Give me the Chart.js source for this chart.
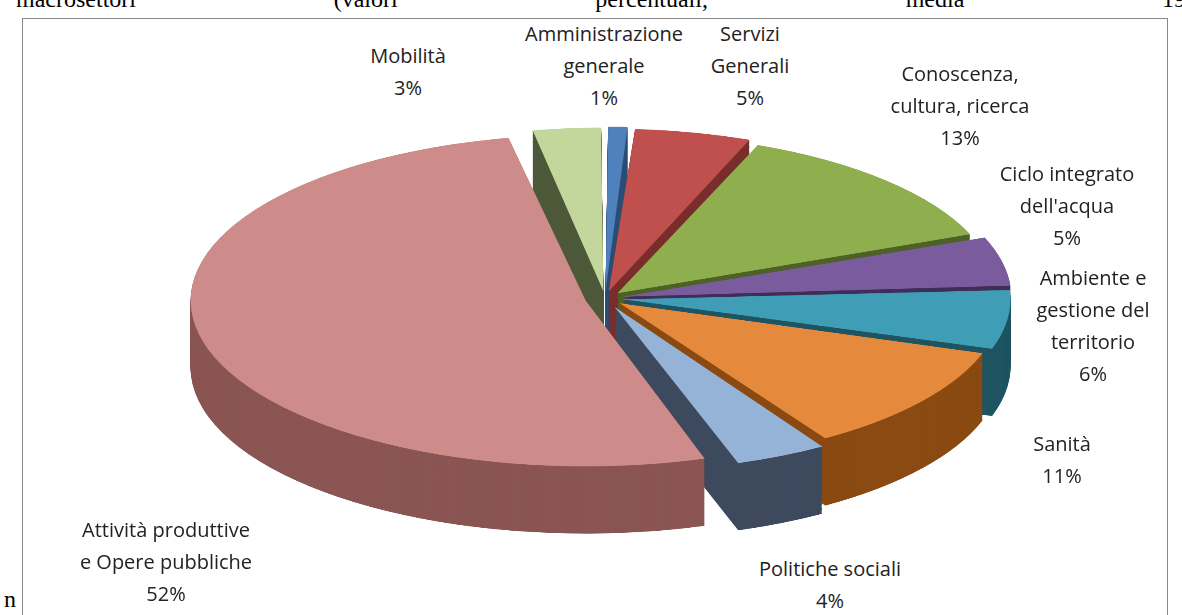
<!DOCTYPE html>
<html>
<head>
<meta charset="utf-8">
<script src="https://cdn.jsdelivr.net/npm/chart.js@4"></script>
<style>
body { margin: 0; width: 1182px; height: 615px; background: #fff; position: relative; overflow: hidden; font-family: 'Open Sans', Lato, sans-serif; }
#frame { position: absolute; left: 22px; top: 18px; width: 1146px; height: 600px; border: 1px solid #888; box-sizing: border-box; }
#wrap { position: absolute; left: 22px; top: 122px; width: 1146px; height: 1000px; transform: scaleY(0.42); transform-origin: top left; }
.lbl { position: absolute; transform: translate(-50%, -50%); text-align: center; font-size: 20px; line-height: 32px; color: #222; white-space: nowrap; }
#head { position: absolute; top: -14px; left: 16px; width: 1170px; font-family: 'Liberation Serif', serif; font-size: 24px; display: flex; justify-content: space-between; }
</style>
</head>
<body>
<div id="head"><span>macrosettori</span><span>(valori</span><span>percentuali,</span><span>media</span><span>19</span></div>
<div style="position:absolute;left:4px;top:586px;font-family:'Liberation Serif',serif;font-size:24px">n</div>
<div id="frame"></div>
<div id="wrap"><canvas id="pie"></canvas></div>
<div id="labels"></div>
<script>
const categories = ['Amministrazione\ngenerale', 'Servizi\nGenerali', 'Conoscenza,\ncultura, ricerca', "Ciclo integrato\ndell'acqua",
  'Ambiente e\ngestione del\nterritorio', 'Sanità', 'Politiche sociali', 'Attività produttive\ne Opere pubbliche', 'Mobilità'];
const values = [1, 5, 13, 5, 6, 11, 4, 52, 3];
const colors = ['#4F81BD', '#C0504D', '#8FAE4E', '#7A5C9E', '#3F9DB5', '#E58A3C', '#95B3D7', '#CD8B89', '#C3D69B'];
const sides = ['#2E4F78', '#7A2E2C', '#4E6228', '#3F2F57', '#1F5562', '#8A4A12', '#3E4A5E', '#8A5553', '#4E5A3A'];
const labelPos = [[604, 66], [750, 66], [960, 106], [1067, 206], [1093, 326], [1062, 460], [830, 585], [166, 562], [408, 72]];

const lbls = document.getElementById('labels');
categories.forEach((c, i) => {
  const d = document.createElement('div');
  d.className = 'lbl';
  d.style.left = labelPos[i][0] + 'px';
  d.style.top = labelPos[i][1] + 'px';
  d.innerHTML = c.replace(/\n/g, '<br>') + '<br>' + values[i] + '%';
  lbls.appendChild(d);
});

const depth = {
  id: 'depth',
  beforeDatasetsDraw(chart) {
    const ctx = chart.ctx;
    chart.getDatasetMeta(0).data.forEach((arc, i) => {
      const o = arc.options;
      const bg = o.backgroundColor, bw = o.borderWidth;
      o.backgroundColor = sides[i];
      o.borderWidth = 0;
      for (let d = 160; d > 0; d -= 2) {
        ctx.save();
        ctx.translate(0, d);
        arc.draw(ctx);
        ctx.restore();
      }
      o.backgroundColor = bg;
      o.borderWidth = bw;
    });
  }
};

new Chart(document.getElementById('pie'), {
  type: 'pie',
  data: {
    labels: categories,
    datasets: [{
      data: values,
      backgroundColor: colors,
      borderWidth: 0,
      offset: [70, 70, 70, 75, 75, 75, 90, 80, 70]
    }]
  },
  options: {
    responsive: true,
    maintainAspectRatio: false,
    animation: false,
    layout: { padding: { top: 0, bottom: 160, left: 20, right: 0 } },
    plugins: { legend: { display: false }, tooltip: { enabled: false } }
  },
  plugins: [depth]
});
</script>
</body>
</html>
